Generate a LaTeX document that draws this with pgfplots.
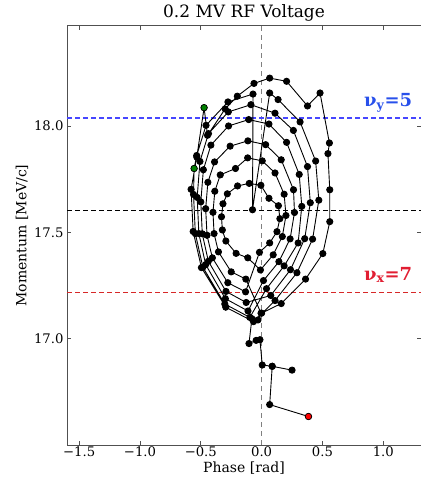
\documentclass[border=0pt]{standalone}
\usepackage{pgfplots}
\pgfplotsset{compat=1.18}
\usepackage{fontspec}
\setmainfont{DejaVu Serif}
\definecolor{spine}{RGB}{80,80,80}
\definecolor{nublue}{RGB}{40,80,235}
\definecolor{lineblue}{RGB}{70,70,255}
\definecolor{nured}{RGB}{225,30,50}
\definecolor{linered}{RGB}{215,40,40}
\definecolor{mkgreen}{RGB}{0,128,0}
\pgfplotstableread{
x y
0.385 16.634
0.066 16.690
0.087 16.870
0.250 16.852
0.087 16.870
0.005 16.876
-0.014 16.995
-0.045 16.992
-0.104 16.977
-0.080 17.094
-0.030 17.088
-0.005 17.120
-0.130 17.280
-0.250 17.314
-0.355 17.408
-0.391 17.494
-0.400 17.594
-0.385 17.693
-0.340 17.770
-0.215 17.800
-0.115 17.850
0.005 17.836
0.110 17.779
0.185 17.679
0.200 17.579
0.170 17.480
0.095 17.394
-0.010 17.323
-0.114 17.380
-0.210 17.401
-0.294 17.459
-0.323 17.511
-0.330 17.573
-0.318 17.634
-0.282 17.681
-0.198 17.718
-0.102 17.730
-0.006 17.721
0.060 17.660
0.138 17.625
0.150 17.564
0.126 17.503
0.066 17.450
-0.018 17.406
-0.132 17.220
-0.278 17.263
-0.405 17.380
-0.449 17.486
-0.460 17.611
-0.442 17.735
-0.387 17.831
-0.259 17.905
-0.113 17.930
0.033 17.912
0.161 17.841
0.262 17.700
0.270 17.593
0.234 17.469
0.142 17.362
0.015 17.273
-0.112 17.130
-0.298 17.188
-0.460 17.348
-0.516 17.494
-0.530 17.664
-0.507 17.833
-0.437 17.964
-0.274 18.066
-0.088 18.100
0.110 18.060
0.261 17.979
0.377 17.809
0.400 17.639
0.354 17.470
0.237 17.324
0.075 17.203
-0.127 17.170
-0.293 17.222
-0.438 17.364
-0.488 17.493
-0.500 17.643
-0.479 17.794
-0.417 17.910
-0.272 18.000
-0.106 18.030
0.060 18.009
0.205 17.923
0.309 17.772
0.330 17.622
0.300 17.450
0.185 17.342
0.040 17.235
-0.097 17.100
-0.303 17.163
-0.483 17.336
-0.545 17.494
-0.560 17.678
-0.555 17.800
-0.534 17.861
-0.457 18.003
-0.277 18.113
-0.071 18.150
-0.075 17.606
0.066 18.155
0.135 18.124
0.316 18.019
0.444 17.835
0.470 17.651
0.419 17.468
0.290 17.310
0.110 17.179
-0.067 17.080
-0.295 17.148
-0.495 17.334
-0.563 17.504
-0.580 17.702
-0.533 17.854
-0.473 18.086
-0.445 17.956
-0.300 18.080
-0.200 18.140
-0.063 18.200
0.066 18.225
0.205 18.210
0.377 18.094
0.480 18.155
0.557 17.920
0.545 17.870
0.560 17.700
0.560 17.550
0.503 17.400
0.361 17.280
0.161 17.165
0.000 17.120
}\traj
\begin{document}
\begin{tikzpicture}
\useasboundingbox (-67bp,-35bp) rectangle (354bp,445bp);
\begin{axis}[
  at={(0,0)}, anchor=south west,
  scale only axis, width=354bp, height=419bp,
  xmin=-1.6, xmax=1.31, ymin=16.5, ymax=18.47,
  xtick={-1.5,-1,-0.5,0,0.5,1},
  xticklabels={−1.5,−1.0,−0.5,0.0,0.5,1.0},
  ytick={17,17.5,18},
  yticklabels={17.0,17.5,18.0},
  tick align=inside, tick pos=both,
  major tick length=4bp,
  tick style={spine, line width=0.8pt},
  axis line style={spine, line width=1pt},
  ticklabel style={font=\fontsize{13.2bp}{15bp}\selectfont},
  label style={font=\fontsize{14bp}{16bp}\selectfont},
  title style={font=\fontsize{17bp}{19bp}\selectfont, yshift=-5bp},
  xticklabel style={yshift=2bp},
  title={0.2 MV RF Voltage},
  xlabel={Phase [rad]},
  ylabel={Momentum [MeV/c]},
  xlabel style={yshift=1bp},
  ylabel style={yshift=-1bp},
  clip=false,
]
\addplot[dash pattern=on 5bp off 4bp, color=gray, line width=1.2pt, forget plot] coordinates {(0,16.5) (0,18.47)};
\addplot[dash pattern=on 5bp off 3bp, color=lineblue, line width=1.3pt] coordinates {(-1.6,18.038) (1.31,18.038)};
\addplot[dash pattern=on 5bp off 3bp, color=black, line width=1pt] coordinates {(-1.6,17.603) (1.31,17.603)};
\addplot[dash pattern=on 5bp off 3bp, color=linered, line width=1.1pt] coordinates {(-1.6,17.216) (1.31,17.216)};
\addplot[black, line width=0.9pt, mark=*, mark size=3.1bp, mark options={fill=black, draw=black}] table[x=x,y=y] {\traj};
\addplot[only marks, mark=*, mark size=3.2bp, mark options={fill=mkgreen, draw=black, line width=0.6pt}] coordinates {(-0.473,18.086) (-0.555,17.800)};
\addplot[only marks, mark=*, mark size=3.2bp, mark options={fill=red, draw=black, line width=0.6pt}] coordinates {(0.385,16.634)};
\node[anchor=base, text=nublue, font=\fontsize{18bp}{20bp}\selectfont\bfseries] at (axis cs:1.04,18.09) {ν\textsubscript{y}=5};
\node[anchor=base, text=nured, font=\fontsize{18bp}{20bp}\selectfont\bfseries] at (axis cs:1.04,17.275) {ν\textsubscript{x}=7};
\end{axis}
\end{tikzpicture}
\end{document}
